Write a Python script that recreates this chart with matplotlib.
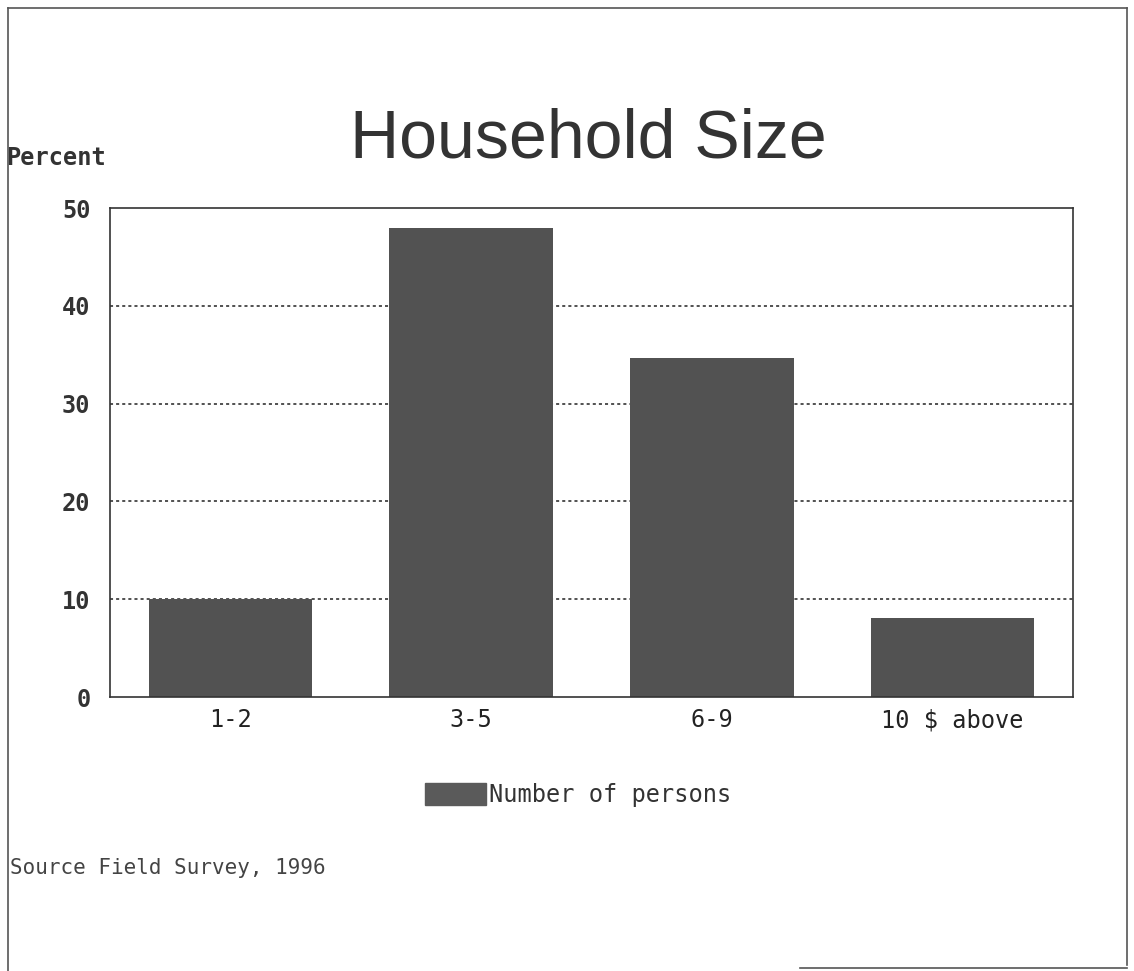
import matplotlib
matplotlib.use("Agg")
import matplotlib.pyplot as plt
from matplotlib.lines import Line2D
from matplotlib.patches import Patch

categories = ["1-2", "3-5", "6-9", "10 $ above"]
values = [10, 48, 34.7, 8.1]
yticks = [0, 10, 20, 30, 40, 50]
series_name = "Number of persons"

W, H = 1134, 971
fig = plt.figure(figsize=(W/100, H/100), dpi=100)
fig.patch.set_facecolor("white")

ax = fig.add_axes([110/W, 1-697/H, (1073-110)/W, (697-208)/H])
x = range(len(categories))
ax.bar(x, values, width=0.68, color="#525252", zorder=2, label=series_name)
ax.set_xlim(-0.5, len(categories)-0.5)
ax.set_ylim(0, 50)
ax.set_yticks(yticks)
ax.set_yticklabels([str(t) for t in yticks], family="DejaVu Sans Mono",
                   fontweight="bold", fontsize=17, color="#333333")
ax.set_xticks(list(x))
ax.set_xticklabels(categories, family="DejaVu Sans Mono", fontsize=17, color="#222222")
ax.tick_params(axis="both", length=0)
ax.tick_params(axis="y", pad=14)
ax.tick_params(axis="x", pad=8)
for t in yticks[1:-1]:
    ax.axhline(t, color="#222222", linestyle=(0, (2, 2)), linewidth=1.1, zorder=1)
for s in ax.spines.values():
    s.set_color("#333333")
    s.set_linewidth(1.2)

fig.text(588/W, 1-157/H, "Household Size", ha="center", va="baseline",
         family="Liberation Sans", fontsize=49, color="#333333")
fig.text(6/W, 1-158/H, "Percent", ha="left", va="center",
         family="DejaVu Sans Mono", fontweight="bold", fontsize=17, color="#333333")

handles = [Patch(facecolor="#5a5a5a", edgecolor="#5a5a5a")]
leg = fig.legend(handles, [series_name], loc="center", bbox_to_anchor=(578/W, 1-795/H),
                 frameon=False, prop={"family": "DejaVu Sans Mono", "size": 17},
                 handlelength=2.6, handleheight=1.1, handletextpad=0.1)
for t in leg.get_texts():
    t.set_color("#333333")

fig.text(10/W, 1-868/H, "Source Field Survey, 1996", ha="left", va="center",
         family="DejaVu Sans Mono", fontsize=15, color="#444444")

# page border
for (x0, y0, x1, y1) in [(8, 8, 8, 971), (8, 8, 1127, 8), (1127, 8, 1127, 965), (800, 968, 1127, 968)]:
    fig.add_artist(Line2D([x0/W, x1/W], [1-y0/H, 1-y1/H], transform=fig.transFigure,
                          color="#555555", linewidth=1.2))

fig.savefig("out.png", dpi=100)
